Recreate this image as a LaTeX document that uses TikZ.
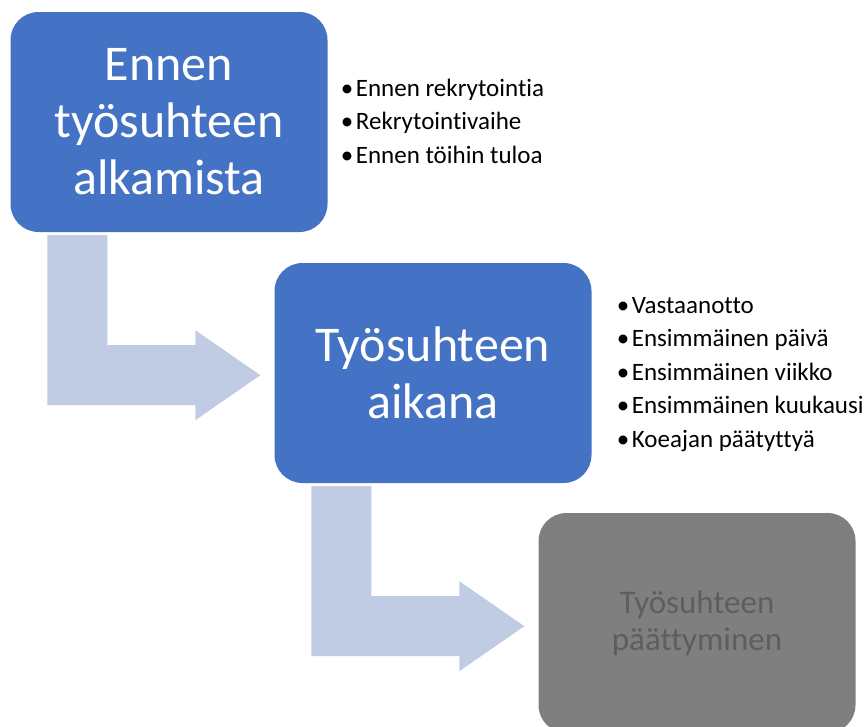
\documentclass[tikz,border=0pt]{standalone}
\usepackage{fontspec}
\setmainfont[Ligatures={NoCommon,NoRare}]{Carlito}
\usetikzlibrary{positioning}
\definecolor{phaseblue}{HTML}{4472C4}
\definecolor{flowblue}{HTML}{C0CBE4}
\definecolor{phasegray}{HTML}{7F7F7F}
\definecolor{textgray}{HTML}{5E5E5E}
\newcommand{\bul}{\makebox[15pt][l]{\textbullet}}

\begin{document}
\begin{tikzpicture}[line cap=round,line join=round,x=1pt,y=-1pt,
  phase/.style={rectangle,rounded corners=28pt,minimum width=317pt,minimum height=220pt,
    inner sep=0pt,align=center,fill=phaseblue,text=white,font=\fontsize{50}{57}\selectfont},
  items/.style={inner sep=0pt,align=left,font=\fontsize{25}{33.5}\selectfont},
  flow/.style={fill=flowblue}]
\useasboundingbox (0,0) rectangle (867,726);
\node[phase] (before) at (169,122) {Ennen\\työsuhteen\\alkamista};
\node[phase] (during) at (433,373) {Työsuhteen\\aikana};
\node[phase,fill=phasegray,text=textgray,font=\fontsize{33}{37}\selectfont] (after) at (697,623) {Työsuhteen\\päättyminen};
\fill[flow,shift={(before.south west)}] (37,3) -- (97,3) -- (97,113) -- (185,113) -- (185,98) -- (250,143) -- (185,188) -- (185,173) -- (37,173) -- cycle;
\fill[flow,shift={(during.south west)}] (37,3) -- (97,3) -- (97,113) -- (185,113) -- (185,98) -- (250,143) -- (185,188) -- (185,173) -- (37,173) -- cycle;
\node[items,below right=67pt and 13pt of before.north east] (beforelist) {\bul Ennen rekrytointia\\\bul Rekrytointivaihe\\\bul Ennen töihin tuloa};
\node[items,below right=34pt and 25pt of during.north east] (duringlist) {\bul Vastaanotto\\\bul Ensimmäinen päivä\\\bul Ensimmäinen viikko\\\bul Ensimmäinen kuukausi\\\bul Koeajan päätyttyä};
\end{tikzpicture}
\end{document}
